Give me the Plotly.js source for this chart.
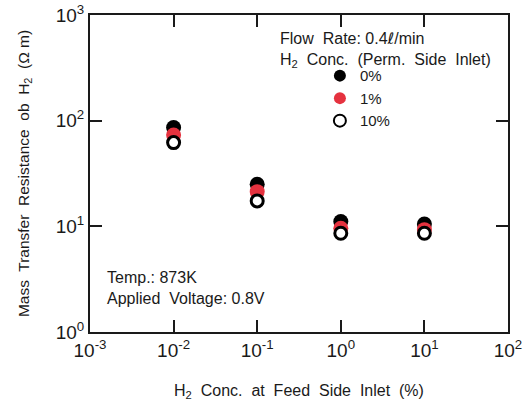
<!DOCTYPE html>
<html><head><meta charset="utf-8">
<script src="https://cdn.plot.ly/plotly-3.0.1.min.js"></script>
<style>html,body{margin:0;padding:0;background:#fff}</style>
</head><body><div id="chart" style="width:527px;height:400px"></div>
<script>
const feedConc = [0.01, 0.1, 1, 10];
const permLabels = ['0%', '1%', '10%'];
const res0 = [86, 25, 11.1, 10.5];
const res1 = [73, 21.3, 9.6, 9.3];
const res10 = [62, 17.4, 8.6, 8.6];
const xTickVals = [0.001, 0.01, 0.1, 1, 10, 100];
const xTickText = ['10<sup>-3</sup>', '10<sup>-2</sup>', '10<sup>-1</sup>', '10<sup>0</sup>', '10<sup>1</sup>', '10<sup>2</sup>'];
const yTickVals = [1, 10, 100, 1000];
const yTickText = ['10<sup>0</sup>', '10<sup>1</sup>', '10<sup>2</sup>', '10<sup>3</sup>'];
const xTitle = 'H<sub>2</sub>  Conc.  at  Feed  Side  Inlet  (%)';
const yTitle = 'Mass  Transfer  Resistance  ob  H<sub>2</sub>  (Ω m)';

const font = 'Liberation Sans, Arial, Helvetica, sans-serif';
const ink = '#1a1a1a';

const traces = [
  {x: feedConc, y: res0, name: permLabels[0], mode: 'markers', type: 'scatter',
   marker: {symbol: 'circle', size: 15, color: '#000'}},
  {x: feedConc, y: res1, name: permLabels[1], mode: 'markers', type: 'scatter',
   marker: {symbol: 'circle', size: 15, color: '#e5323f'}},
  {x: feedConc, y: res10, name: permLabels[2], mode: 'markers', type: 'scatter',
   marker: {symbol: 'circle', size: 12, color: '#fff', line: {color: '#000', width: 3}}}
];

const axisCommon = {
  type: 'log', tickmode: 'array',
  ticks: 'inside', ticklen: 12, tickwidth: 2, tickcolor: ink,
  showline: true, linewidth: 2, linecolor: ink, mirror: 'ticks',
  showgrid: false, zeroline: false, automargin: false,
  tickfont: {family: font, size: 19, color: ink}
};

const layout = {
  width: 527, height: 400,
  margin: {l: 90, r: 19, t: 15, b: 68},
  paper_bgcolor: '#fff', plot_bgcolor: '#fff',
  font: {family: font, color: ink},
  xaxis: Object.assign({}, axisCommon, {
    range: [-3, 2], tickvals: xTickVals, ticktext: xTickText
  }),
  yaxis: Object.assign({}, axisCommon, {
    range: [0, 3], tickvals: yTickVals, ticktext: yTickText,
    title: {text: yTitle, font: {family: font, size: 15.5, color: ink}, standoff: 22}
  }),
  showlegend: true,
  legend: {
    x: 0.55, y: 0.86, xanchor: 'left', yanchor: 'top',
    bgcolor: 'rgba(0,0,0,0)', itemsizing: 'constant',
    font: {family: font, size: 15, color: ink}, tracegroupgap: 0
  },
  annotations: [
    {xref: 'paper', yref: 'paper', x: 0.5, y: -0.188, xanchor: 'center', yanchor: 'middle',
     showarrow: false, font: {family: font, size: 16, color: ink}, text: xTitle},
    {xref: 'paper', yref: 'paper', x: 0.45, y: 0.962, xanchor: 'left', yanchor: 'top', align: 'left',
     showarrow: false, font: {family: font, size: 16, color: ink},
     text: 'Flow  Rate: 0.4<span style="font-family:DejaVu Sans">ℓ</span>/min<br>H<sub>2</sub>  Conc.  (Perm.  Side  Inlet)'},
    {xref: 'paper', yref: 'paper', x: 0.035, y: 0.205, xanchor: 'left', yanchor: 'top', align: 'left',
     showarrow: false, font: {family: font, size: 16, color: ink},
     text: 'Temp.: 873K<br>Applied  Voltage: 0.8V'}
  ]
};

Plotly.newPlot('chart', traces, layout, {displayModeBar: false, staticPlot: true});
</script></body></html>
